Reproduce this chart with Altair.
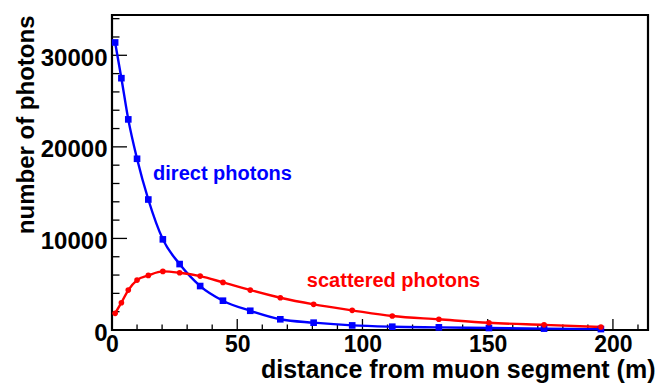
import altair as alt
import pandas as pd

# Distance bins along the muon track (m)
DIST = [1.25, 3.75, 6.5, 10, 14.5, 20.3, 27, 35.2, 44.3, 55.2, 67.2, 80.5,
        95.9, 111.9, 130.5, 150.5, 172.5, 195.2]
# Photon counts per bin
DIRECT = [31400, 27500, 23000, 18700, 14250, 9900, 7200, 4800, 3200, 2100,
          1170, 800, 500, 360, 290, 220, 150, 100]
SCATTERED = [1820, 2980, 4360, 5450, 5960, 6400, 6250, 5890, 5200, 4360,
             3520, 2800, 2150, 1530, 1170, 790, 560, 330]

SERIES = ["direct photons", "scattered photons"]
COLORS = ["#0000ff", "#ff0000"]

# Annotation text positions (data units)
LABEL_X = [16.4, 77.8]
LABEL_Y = [16400, 4700]

X_MAJOR = [0, 50, 100, 150, 200]
X_MINOR = [v for v in range(0, 211, 10) if v % 50 != 0]
Y_MAJOR = [0, 10000, 20000, 30000]
Y_MINOR = [v for v in range(0, 34001, 2000) if v % 10000 != 0]

X_MAX = 214
Y_MAX = 34400
W, H = 536, 315
FONT = "Liberation Sans"

rows = []
for d, a, b in zip(DIST, DIRECT, SCATTERED):
    rows.append({"dist": d, "n": a, "series": SERIES[0]})
    rows.append({"dist": d, "n": b, "series": SERIES[1]})
df = pd.DataFrame(rows)

labels = pd.DataFrame({"dist": LABEL_X, "n": LABEL_Y, "series": SERIES})

xs = alt.Scale(domain=[0, X_MAX], nice=False, zero=False)
ys = alt.Scale(domain=[0, Y_MAX], nice=False)
cs = alt.Scale(domain=SERIES, range=COLORS)

x_axis = alt.Axis(
    values=X_MAJOR, ticks=False, tickSize=0, domain=False, grid=False,
    labelFont=FONT, labelFontSize=23, labelFontWeight="bold", labelColor="black",
    labelPadding=3, labelFlush=False,
    title="distance from muon segment (m)", titleFont=FONT, titleFontSize=25,
    titleFontWeight="bold", titleColor="black", titleAlign="right",
    titleX=543, titleY=47, titleBaseline="alphabetic",
)
y_axis = alt.Axis(
    values=Y_MAJOR, format="d", ticks=False, tickSize=0, domain=False, grid=False,
    labelFont=FONT, labelFontSize=24, labelFontWeight="bold", labelColor="black",
    labelPadding=5, labelOffset=3, labelFlush=False, labelBaseline="middle",
    title="number of photons", titleFont=FONT, titleFontSize=24,
    titleFontWeight="bold", titleColor="black", titleAngle=-90,
    titleAlign="right", titleBaseline="middle", titleX=-86, titleY=0,
)

base = alt.Chart(df).encode(
    x=alt.X("dist:Q", scale=xs, axis=x_axis),
    y=alt.Y("n:Q", scale=ys, axis=y_axis),
    color=alt.Color("series:N", scale=cs, legend=None),
)

lines = base.mark_line(strokeWidth=2.4, interpolate="monotone")
squares = base.transform_filter(alt.datum.series == SERIES[0]).mark_point(
    shape="square", filled=True, size=44, opacity=1)
circles = base.transform_filter(alt.datum.series == SERIES[1]).mark_point(
    shape="circle", filled=True, size=32, opacity=1)

text = alt.Chart(labels).mark_text(
    font=FONT, fontSize=20, fontWeight="bold", align="left", baseline="alphabetic"
).encode(
    x=alt.X("dist:Q", scale=xs),
    y=alt.Y("n:Q", scale=ys),
    text="series:N",
    color=alt.Color("series:N", scale=cs, legend=None),
)


def xticks(vals, length):
    return alt.Chart(pd.DataFrame({"t": vals})).mark_rule(
        color="black", strokeWidth=1.3
    ).encode(
        x=alt.X("t:Q", scale=xs),
        y=alt.value(H),
        y2=alt.value(H - length),
    )


def yticks(vals, length):
    return alt.Chart(pd.DataFrame({"t": vals})).mark_rule(
        color="black", strokeWidth=1.3
    ).encode(
        y=alt.Y("t:Q", scale=ys),
        x=alt.value(0),
        x2=alt.value(length),
    )


chart = alt.layer(
    xticks(X_MAJOR, 11), xticks(X_MINOR, 5.5),
    yticks(Y_MAJOR, 15), yticks(Y_MINOR, 7.5),
    lines, squares, circles, text,
).properties(
    width=W, height=H,
    autosize=alt.AutoSizeParams(type="none"),
    padding={"left": 112, "top": 15, "right": 10, "bottom": 53},
    background="white",
).configure_view(
    stroke="black", strokeWidth=2.2
)

chart.save("out.html", embed_options={"renderer": "svg", "actions": False})
